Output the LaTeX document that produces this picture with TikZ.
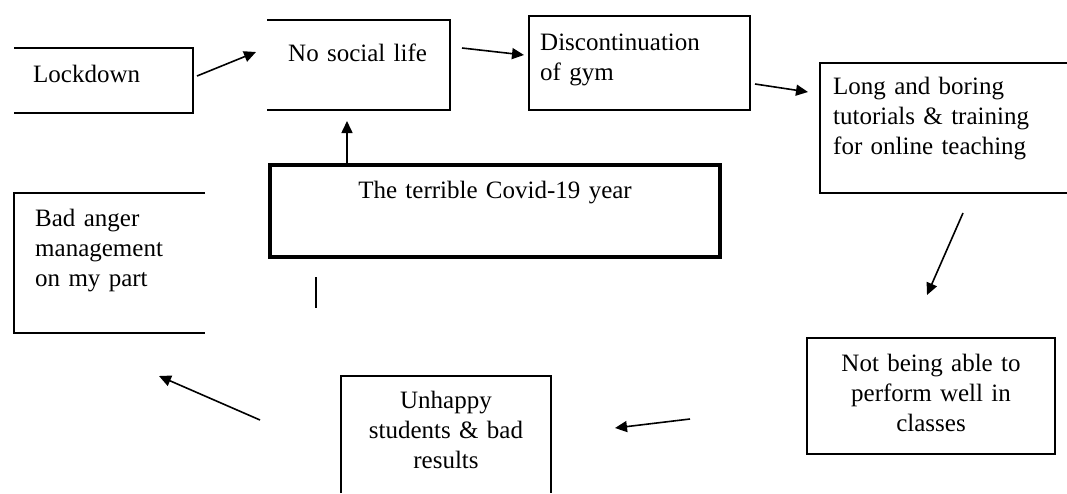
\documentclass[tikz,border=0pt]{standalone}
\usepackage{fontspec}
\setmainfont{Liberation Serif}
\usetikzlibrary{arrows.meta}
\begin{document}
\begin{tikzpicture}[x=1pt,y=-1pt,
  area/.style={draw=none,inner sep=0pt,outer sep=0pt},
  boxline/.style={line width=1.4pt,line join=miter},
  thickbox/.style={draw,line width=3.4pt,inner sep=0pt,outer sep=0pt},
  txt/.style={inner sep=0pt,font=\fontsize{25}{30}\selectfont,text width=260pt,align=left,anchor=base west},
  ctxt/.style={inner sep=0pt,font=\fontsize{25}{30}\selectfont,text width=420pt,align=center,anchor=base},
  arr/.style={line width=1.6pt,-{Triangle[length=12pt,width=11pt]}}]
\useasboundingbox (0,0) rectangle (1067,493);
\fill[white] (0,0) rectangle (1067,493);

% box areas
\node[area,minimum width=179pt,minimum height=65pt] (lock) at (103.5,80.5) {};
\node[area,minimum width=183pt,minimum height=90pt] (nsl) at (358.5,65) {};
\node[area,minimum width=221pt,minimum height=94pt] (disc) at (639.5,63) {};
\node[area,minimum width=247pt,minimum height=130pt] (long) at (943.5,128) {};
\node[thickbox,minimum width=450pt,minimum height=92pt] (covid) at (495,211) {};
\node[area,minimum width=191pt,minimum height=140pt] (bad) at (109.5,263) {};
\node[area,minimum width=248pt,minimum height=116pt] (notable) at (931,396) {};
\node[area,minimum width=210pt,minimum height=117pt] (unhappy) at (446,434.5) {};

% box outlines (open sides as in the reference)
\draw[boxline] (lock.north west) -- (lock.north east) -- (lock.south east) -- (lock.south west);
\draw[boxline] (nsl.north west) -- (nsl.north east) -- (nsl.south east) -- (nsl.south west);
\draw[boxline] (disc.north west) rectangle (disc.south east);
\draw[boxline] (long.north east) -- (long.north west) -- (long.south west) -- (long.south east);
\draw[boxline] (bad.north east) -- (bad.north west) -- (bad.south west) -- (bad.south east);
\draw[boxline] (notable.north west) rectangle (notable.south east);
\draw[boxline] (unhappy.south west) -- (unhappy.north west) -- (unhappy.north east) -- (unhappy.south east);

% texts
\node[txt] (locktxt) at (33,82) {Lockdown};
\node[txt] (nsltxt) at (288,61) {No social life};
\node[txt] (disctxt) at (540,50) {Discontinuation\\of gym};
\node[txt] (longtxt) at (833,94) {Long and boring\\tutorials \& training\\for online teaching};
\node[ctxt] (covidtxt) at (495,198) {The terrible Covid-19 year};
\node[txt] (badtxt) at (35,226) {Bad anger\\management\\on my part};
\node[ctxt] (notabletxt) at (931,371) {Not being able to\\perform well in\\classes};
\node[ctxt] (unhappytxt) at (446,408) {Unhappy\\students \& bad\\results};

% arrow end points
\coordinate (a1s) at (197,76);  \coordinate (a1e) at (256,52);
\coordinate (a2s) at (462,48);  \coordinate (a2e) at (524,55);
\coordinate (a3s) at (755,84);  \coordinate (a3e) at (808,92);
\coordinate (a4s) at (963,213); \coordinate (a4e) at (927,295);
\coordinate (a5s) at (690,419); \coordinate (a5e) at (615,428);
\coordinate (a6s) at (260,420); \coordinate (a6e) at (159,376);
\coordinate (a7e) at (347,121);
\coordinate (m1) at (316,277);  \coordinate (m2) at (316,308);

\draw[arr] (a1s) -- (a1e);
\draw[arr] (a2s) -- (a2e);
\draw[arr] (a3s) -- (a3e);
\draw[arr] (a4s) -- (a4e);
\draw[arr] (a5s) -- (a5e);
\draw[arr] (a6s) -- (a6e);
\draw[arr] (covid.north west -| a7e) -- (a7e);
\draw[line width=2.6pt] (m1) -- (m2);
\end{tikzpicture}
\end{document}
